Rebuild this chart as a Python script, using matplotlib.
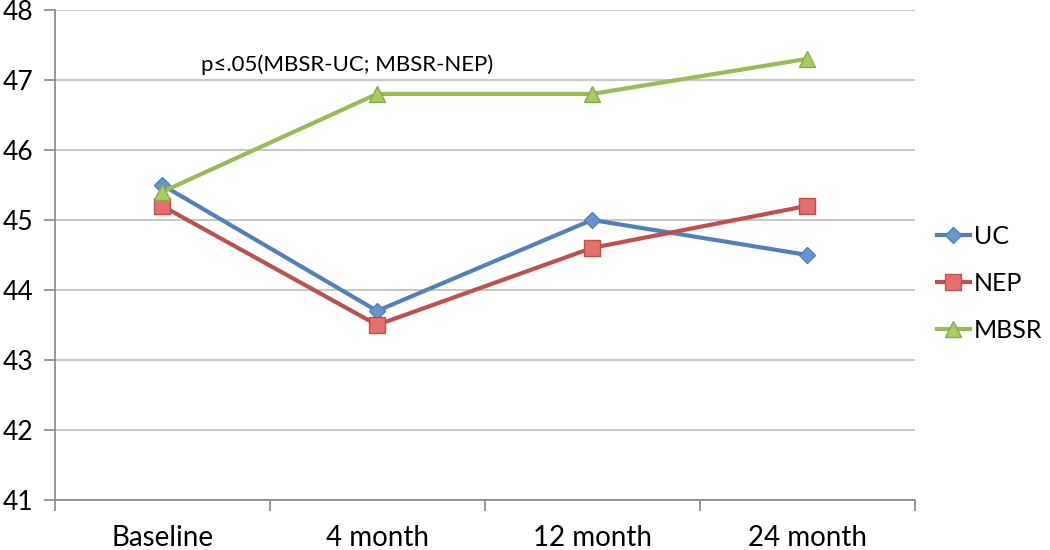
import matplotlib
matplotlib.use("Agg")
from matplotlib import pyplot as plt

categories = ["Baseline", "4 month", "12 month", "24 month"]
uc = [45.5, 43.7, 45.0, 44.5]
nep = [45.2, 43.5, 44.6, 45.2]
mbsr = [45.4, 46.8, 46.8, 47.3]
y_ticks = [41, 42, 43, 44, 45, 46, 47, 48]
note = "p\u2264.05(MBSR-UC; MBSR-NEP)"

plt.rcParams['font.family'] = ['Lato', 'DejaVu Sans']

fig = plt.figure(figsize=(10.5, 5.5), dpi=100)
ax = fig.add_axes([0.052, 0.091, 0.819, 0.891])

x = list(range(len(categories)))
ax.plot(x, uc, color='#4F81BD', lw=3, marker='D', ms=8,
        mfc='#6A96D0', mec='#4F81BD', label='UC', zorder=3)
ax.plot(x, nep, color='#C0504D', lw=3, marker='s', ms=11,
        mfc='#E56F6C', mec='#C0504D', label='NEP', zorder=3)
ax.plot(x, mbsr, color='#9BBB59', lw=3, marker='^', ms=11,
        mfc='#A9CC63', mec='#8AAB4A', label='MBSR', zorder=4)

ax.set_xlim(-0.5, len(categories) - 0.5)
ax.set_ylim(y_ticks[0], y_ticks[-1])
ax.set_yticks(y_ticks)
ax.set_xticks(x)
ax.set_xticklabels(categories)
ax.set_xticks([i - 0.5 for i in range(len(categories) + 1)], minor=True)

ax.yaxis.grid(True, color='#C8C8C8', lw=1.5)
ax.set_axisbelow(True)
for s in ['top', 'right']:
    ax.spines[s].set_visible(False)
ax.spines['left'].set_color('#888888')
ax.spines['bottom'].set_color('#888888')
ax.spines['left'].set_linewidth(1.2)
ax.spines['bottom'].set_linewidth(1.2)

ax.tick_params(axis='y', labelsize=19, length=8, color='#888888', width=1.2, pad=7)
ax.tick_params(axis='x', which='major', labelsize=20, length=0, pad=18)
ax.tick_params(axis='x', which='minor', length=8, color='#888888', width=1.2)

ax.text(0.86, 47.22, note, fontsize=16, ha='center', va='center')

fig.legend(loc='center left', bbox_to_anchor=(0.892, 0.485), frameon=False,
           fontsize=18, handlelength=1.35, handletextpad=0.15, labelspacing=0.95,
           borderaxespad=0, borderpad=0)

fig.savefig("out.png", dpi=100)
